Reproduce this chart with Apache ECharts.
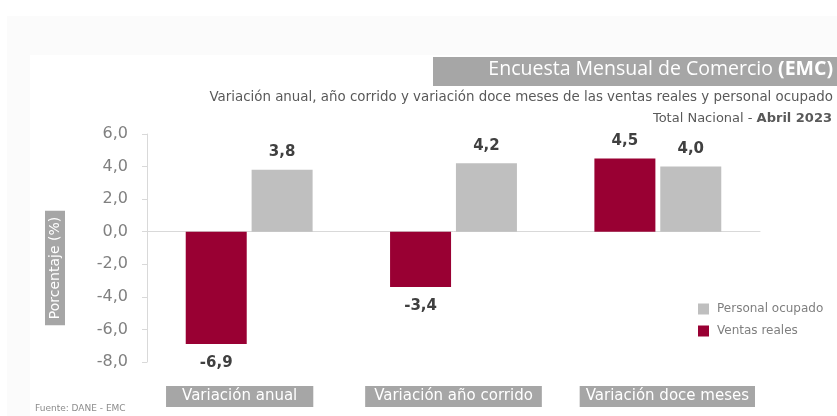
<!DOCTYPE html>
<html>
<head>
<meta charset="utf-8">
<script src="https://cdn.jsdelivr.net/npm/echarts@6/dist/echarts.min.js"></script>
<style>
  html, body { margin: 0; padding: 0; background: #fff; }
  #EmcChart { width: 837px; height: 416px; }
</style>
</head>
<body>
<div id="EmcChart"></div>
<script>
const categories = ["Variación anual", "Variación año corrido", "Variación doce meses"];
const ventasReales = [-6.9, -3.4, 4.5];
const personalOcupado = [3.8, 4.2, 4.0];
const yTicks = { min: -8, max: 6, interval: 2 };

const fmt = (v) => v.toFixed(1).replace(".", ",");
// negative bars get the label under the bar
const withLabels = (arr) => arr.map(v => ({
  value: v,
  label: v < 0 ? { position: "bottom", distance: 12 } : { position: "top", distance: 10 }
}));

const chartDom = document.getElementById("EmcChart");
const myChart = echarts.init(chartDom);
const font = "'DejaVu Sans', sans-serif";
const titleFont = "'Open Sans', sans-serif";
const catBox = (pad) => ({ backgroundColor: "#a6a6a6", color: "#fff", fontSize: 15, padding: pad, fontFamily: font });

const option = {
  animation: false,
  textStyle: { fontFamily: font },
  graphic: [
    { type: "rect", left: 7, top: 16, shape: { width: 830, height: 400 }, style: { fill: "#fbfbfb" }, z: -10 },
    { type: "rect", left: 30, top: 55, shape: { width: 807, height: 361 }, style: { fill: "#ffffff" }, z: -9 },
    { type: "rect", left: 433, top: 57, shape: { width: 404, height: 29 }, style: { fill: "#a6a6a6" } },
    {
      type: "text", right: 4, top: 59,
      style: {
        text: "{n|Encuesta Mensual de Comercio }{b|(EMC)}",
        rich: {
          n: { fill: "#fff", fontSize: 19.5, fontFamily: titleFont },
          b: { fill: "#fff", fontSize: 19.5, fontWeight: "bold", fontFamily: titleFont }
        }
      }
    },
    {
      type: "text", right: 4, top: 91,
      style: {
        text: "Variación anual, año corrido y variación doce meses de las ventas reales y personal ocupado",
        fill: "#595959", fontSize: 13.4, fontFamily: font
      }
    },
    {
      type: "text", right: 5, top: 112,
      style: {
        text: "{n|Total Nacional - }{b|Abril 2023}",
        rich: {
          n: { fill: "#595959", fontSize: 13, fontFamily: font },
          b: { fill: "#595959", fontSize: 13, fontWeight: "bold", fontFamily: font }
        }
      }
    },
    {
      type: "text", x: 55, y: 268, rotation: Math.PI / 2,
      style: {
        text: "Porcentaje (%)", fill: "#fff", fontSize: 14, fontFamily: font,
        align: "center", verticalAlign: "middle",
        backgroundColor: "#a6a6a6", padding: [3, 6]
      }
    },
    {
      type: "text", left: 35, top: 404,
      style: { text: "Fuente: DANE - EMC", fill: "#8c8c8c", fontSize: 9, fontFamily: font }
    }
  ],
  legend: {
    data: ["Personal ocupado", "Ventas reales"],
    orient: "vertical",
    left: 693,
    top: 298,
    itemWidth: 11,
    itemHeight: 11,
    itemGap: 10,
    icon: "rect",
    textStyle: { color: "#7f7f7f", fontSize: 12, fontFamily: font, padding: [0, 0, 0, 3] }
  },
  grid: { left: 147, right: 77, top: 134, bottom: 54, containLabel: false },
  xAxis: [
    {
      type: "category",
      data: categories,
      axisLine: { show: false, onZero: false },
      axisTick: { show: false },
      axisLabel: {
        interval: 0,
        margin: 24,
        // spacer pieces nudge the boxes off-centre like in the original
        formatter: (v, i) => i === 0 ? "{c0|" + v + "}{sp|}" : i === 2 ? "{sp|}{c2|" + v + "}" : "{c1|" + v + "}",
        rich: {
          c0: catBox([3, 16]),
          c1: catBox([3, 9]),
          c2: catBox([3, 6]),
          sp: { width: 19 }
        }
      }
    },
    {
      type: "category",
      data: categories,
      position: "bottom",
      axisLine: { show: true, onZero: true, lineStyle: { color: "#d9d9d9" } },
      axisTick: { show: false },
      axisLabel: { show: false }
    }
  ],
  yAxis: {
    type: "value",
    min: yTicks.min,
    max: yTicks.max,
    interval: yTicks.interval,
    axisLine: { show: true, lineStyle: { color: "#d9d9d9" } },
    axisTick: { show: true, length: 5, lineStyle: { color: "#d9d9d9" } },
    splitLine: { show: false },
    axisLabel: { color: "#808080", fontSize: 16, margin: 19, formatter: fmt }
  },
  series: [
    {
      name: "Ventas reales",
      type: "bar",
      data: withLabels(ventasReales),
      barWidth: 61,
      barGap: "8%",
      itemStyle: { color: "#990033" },
      label: { show: true, color: "#404040", fontSize: 15, fontWeight: "bold", formatter: p => fmt(p.value) }
    },
    {
      name: "Personal ocupado",
      type: "bar",
      data: withLabels(personalOcupado),
      barWidth: 61,
      barGap: "8%",
      itemStyle: { color: "#bfbfbf" },
      label: { show: true, color: "#404040", fontSize: 15, fontWeight: "bold", formatter: p => fmt(p.value) }
    }
  ]
};
option && myChart.setOption(option);
window.addEventListener("resize", myChart.resize);
</script>
</body>
</html>
